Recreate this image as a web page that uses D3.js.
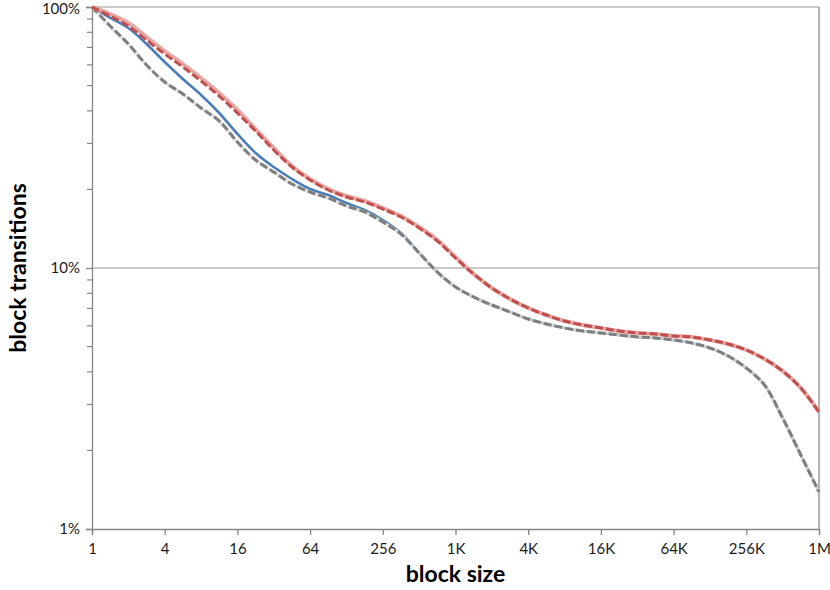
<!DOCTYPE html>
<html>
<head>
<meta charset="utf-8">
<script src="https://cdn.jsdelivr.net/npm/d3@7"></script>
<style>
  html, body { margin: 0; padding: 0; background: #fff; }
  svg { display: block; }
</style>
</head>
<body>
<div id="chart"></div>
<script>
// ---- data ----
const blockSizes = [1, 1.414, 2, 2.828, 4, 5.657, 8, 11.31, 16, 22.63, 32, 45.25, 64, 90.51, 128, 181, 256, 362, 512, 724,
  1024, 1448, 2048, 2896, 4096, 5793, 8192, 11585, 16384, 23170, 32768, 46341, 65536, 92682, 131072, 185364,
  262144, 370728, 524288, 741455, 1048576];

const lightRed = [1.000, 0.9401, 0.8684, 0.7671, 0.6783, 0.6049, 0.5345, 0.4683, 0.4030, 0.3408, 0.2882, 0.2459, 0.2193,
  0.2008, 0.1887, 0.1806, 0.1698, 0.1582, 0.1436, 0.1281, 0.1102, 0.09484, 0.08382, 0.07608, 0.07028, 0.06606,
  0.06265, 0.06049, 0.05891, 0.05737, 0.05637, 0.05587, 0.05490, 0.05442, 0.05299, 0.05115, 0.04851, 0.04481,
  0.04030, 0.03469, 0.02807];

const redDashed = [1.000, 0.9237, 0.8455, 0.7470, 0.6606, 0.5891, 0.5205, 0.4560, 0.3925, 0.3348, 0.2832, 0.2437, 0.2174,
  0.1990, 0.1871, 0.1790, 0.1683, 0.1568, 0.1423, 0.1269, 0.1092, 0.09484, 0.08382, 0.07608, 0.07028, 0.06606,
  0.06265, 0.06049, 0.05891, 0.05737, 0.05637, 0.05587, 0.05490, 0.05442, 0.05299, 0.05115, 0.04851, 0.04481,
  0.04030, 0.03469, 0.02807];

const blueSolid = [1.000, 0.9076, 0.8309, 0.7215, 0.6156, 0.5298, 0.4601, 0.3925, 0.3262, 0.2758, 0.2437, 0.2193, 0.2008,
  0.1904, 0.1774, 0.1668, 0.1527, 0.1362, 0.1142, 0.09653, 0.08456, 0.07743, 0.07217, 0.06784, 0.06377, 0.06102,
  0.05891, 0.05737, 0.05637, 0.05538, 0.05442, 0.05394, 0.05299, 0.05161, 0.04937, 0.04601, 0.04137, 0.03561,
  0.02662, 0.01921, 0.01387];

const grayDashed = [1.000, 0.8455, 0.7215, 0.5995, 0.5160, 0.4642, 0.4102, 0.3659, 0.3039, 0.2593, 0.2332, 0.2099, 0.1955,
  0.1854, 0.1728, 0.1639, 0.1500, 0.1350, 0.1142, 0.09653, 0.08456, 0.07743, 0.07217, 0.06784, 0.06377, 0.06102,
  0.05891, 0.05737, 0.05637, 0.05538, 0.05442, 0.05394, 0.05299, 0.05161, 0.04937, 0.04601, 0.04137, 0.03561,
  0.02662, 0.01921, 0.01387];

const xTickValues = [1, 4, 16, 64, 256, 1024, 4096, 16384, 65536, 262144, 1048576];
const xTickLabels = ["1", "4", "16", "64", "256", "1K", "4K", "16K", "64K", "256K", "1M"];
const yTickValues = [0.01, 0.1, 1];
const yTickLabels = ["1%", "10%", "100%"];

const xTitle = "block size";
const yTitle = "block transitions";

// ---- layout ----
const W = 830, H = 590;
const L = 92, R = 819, T = 7, B = 529;
const FONT = "Lato, 'Open Sans', 'Liberation Sans', sans-serif";

const svg = d3.select("#chart").append("svg").attr("width", W).attr("height", H);

const x = d3.scaleLog().base(2).domain([1, 1048576]).range([L, R]);
const y = d3.scaleLog().domain([0.01, 1]).range([B, T]);

// gridlines (major y)
svg.append("g").selectAll("line").data(yTickValues.slice(1)).join("line")
  .attr("x1", L).attr("x2", R)
  .attr("y1", d => y(d)).attr("y2", d => y(d))
  .attr("stroke", "#b8b8b8").attr("stroke-width", 1.3);

// right border
svg.append("line").attr("x1", R).attr("x2", R).attr("y1", T).attr("y2", B)
  .attr("stroke", "#8c8c8c").attr("stroke-width", 1.3);

// y axis
const yAxis = d3.axisLeft(y).tickValues(yTickValues)
  .tickFormat((d, i) => yTickLabels[i]).tickSize(6).tickPadding(6);
const gy = svg.append("g").attr("transform", `translate(${L},0)`).call(yAxis);
gy.select(".domain").attr("stroke", "#868686").attr("stroke-width", 1.3);
gy.selectAll(".tick line").attr("stroke", "#868686").attr("stroke-width", 1.3);
gy.selectAll(".tick text").attr("font-family", FONT).attr("font-size", 15).attr("fill", "#1a1a1a");
gy.selectAll(".tick text").filter((d, i) => i === yTickValues.length - 1).attr("dy", "0.4em");

// minor y ticks
const minor = y.ticks().filter(v => !yTickValues.some(m => Math.abs(m - v) < 1e-9));
svg.append("g").selectAll("line").data(minor).join("line")
  .attr("x1", L - 5).attr("x2", L)
  .attr("y1", d => y(d)).attr("y2", d => y(d))
  .attr("stroke", "#868686").attr("stroke-width", 1.2);

// x axis
const xAxis = d3.axisBottom(x).tickValues(xTickValues)
  .tickFormat((d, i) => xTickLabels[i]).tickSize(6).tickPadding(8);
const gx = svg.append("g").attr("transform", `translate(0,${B})`).call(xAxis);
gx.select(".domain").attr("stroke", "#868686").attr("stroke-width", 1.3);
gx.selectAll(".tick line").attr("stroke", "#868686").attr("stroke-width", 1.3);
gx.selectAll(".tick text").attr("font-family", FONT).attr("font-size", 15).attr("fill", "#1a1a1a");

// axis titles
svg.append("text").attr("x", (L + R) / 2).attr("y", 582)
  .attr("text-anchor", "middle").attr("font-family", FONT).attr("font-weight", "bold")
  .attr("font-size", 23).attr("fill", "#000").text(xTitle);
svg.append("text").attr("transform", `translate(26,${(T + B) / 2}) rotate(-90)`)
  .attr("text-anchor", "middle").attr("font-family", FONT).attr("font-weight", "bold")
  .attr("font-size", 23).attr("fill", "#000").text(yTitle);

// lines
const line = vals => d3.line()
  .x((d, i) => x(blockSizes[i]))
  .y(d => y(d))
  .curve(d3.curveCatmullRom.alpha(0.5))(vals);

const g = svg.append("g");
// blue solid
g.append("path").attr("d", line(blueSolid)).attr("fill", "none")
  .attr("stroke", "#4a7ebb").attr("stroke-width", 2.6);
// light halo under dashed gray
g.append("path").attr("d", line(grayDashed)).attr("fill", "none")
  .attr("stroke", "#dcdcdc").attr("stroke-width", 3.2).attr("stroke-opacity", 0.85);
// gray dashed
g.append("path").attr("d", line(grayDashed)).attr("fill", "none")
  .attr("stroke", "#7f7f7f").attr("stroke-width", 3).attr("stroke-dasharray", "8,3");
// light red solid
g.append("path").attr("d", line(lightRed)).attr("fill", "none")
  .attr("stroke", "#e39c9a").attr("stroke-width", 4).attr("stroke-opacity", 0.9);
// red dashed
g.append("path").attr("d", line(redDashed)).attr("fill", "none")
  .attr("stroke", "#c0504d").attr("stroke-width", 3).attr("stroke-dasharray", "8,3");
</script>
</body>
</html>
